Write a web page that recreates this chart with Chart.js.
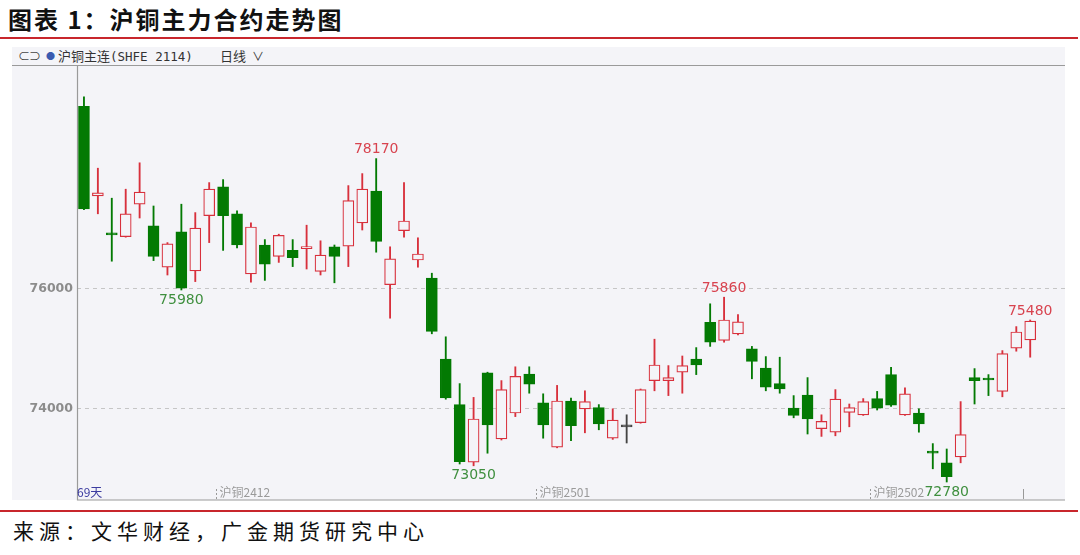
<!DOCTYPE html>
<html>
<head>
<meta charset="utf-8">
<script src="https://cdn.jsdelivr.net/npm/chart.js@4.4.1/dist/chart.umd.min.js"></script>
<style>
  body { margin: 0; width: 1080px; height: 555px; background: #fff; position: relative; overflow: hidden;
         font-family: "Noto Sans CJK SC", sans-serif; }
  #title { position: absolute; left: 8px; top: 6px; font-size: 24px; line-height: 26px; font-weight: bold;
           letter-spacing: 2px; color: #111; }
  .redline { position: absolute; left: 0; width: 1078px; height: 1.5px; background: #c8262c; }
  #panel { position: absolute; left: 12px; top: 47px; width: 1053px; height: 453px; background: #f4f4f8; }
  #bar { position: absolute; left: 12px; top: 47px; width: 1053px; height: 18px; border-bottom: 1px solid #9a9a9a;
         font-size: 13px; line-height: 18px; color: #333; }
  #bar span { position: absolute; top: 0; }
  .mono { font-family: "DejaVu Sans Mono", monospace; font-size: 12.5px; }
  #foot { position: absolute; left: 13px; top: 518px; font-size: 21px; line-height: 24px; letter-spacing: 5px; color: #111; }
  #wrap { position: absolute; left: 0; top: 0; width: 1080px; height: 555px; }
</style>
</head>
<body>
<div id="title">图表 1：沪铜主力合约走势图</div>
<div class="redline" style="top:37px"></div>
<div id="panel"></div>
<div id="bar">
  <span style="left:6px;font-size:12px;letter-spacing:-1px;color:#444">⊂⊃</span>
  <span style="left:34px;font-size:9px;color:#3a5bb0">●</span>
  <span style="left:46px">沪铜主连<span class="mono" style="position:static">(SHFE 2114)</span></span>
  <span style="left:208px">日线</span>
  <span style="left:240px;font-size:12px">∨</span>
</div>
<div class="redline" style="top:510px"></div>
<div id="foot">来源：文华财经，广金期货研究中心</div>
<div id="wrap"><canvas id="c"></canvas></div>

<script>
// daily OHLC of SHFE copper main contract, 69 trading days
const opens  = [79040,77550,76910,76870,77410,77050,76360,76950,76300,77220,
                77700,77250,76250,76730,76540,76640,76670,76290,76700,76710,
                77100,77630,76070,76970,76480,76180,74830,74070,73110,74600,
                73500,73930,74580,74100,73360,74130,74000,74020,73510,73700,
                73770,74470,74470,74610,74830,75440,75140,75250,75000,74680,
                74420,74010,74230,73670,73610,73940,73900,74170,74570,73900,
                73930,73270,73100,73200,74520,74490,74290,75010,75150];
const highs  = [79200,78010,77510,77660,78100,77380,76770,77410,77270,77770,
                77820,77300,77100,76820,76910,76820,77060,76800,76730,77720,
                77920,78170,76700,77770,76850,76260,75200,74420,74190,74610,
                74470,74700,74700,74250,74390,74180,74300,74070,74000,73900,
                74330,75160,74720,74880,75020,75750,75860,75570,75040,74870,
                74860,74220,74520,73900,74320,74080,74170,74290,74690,74350,
                74000,73420,73330,74120,74670,74570,74970,75370,75480];
const lows   = [77320,77250,76460,76860,77180,76470,76230,75980,76120,76770,
                76640,76680,76110,76140,76440,76370,76330,76230,76100,76370,
                76980,76610,75510,76860,76360,75250,74160,73080,73050,73260,
                73480,73870,74260,73510,73350,73470,73600,73650,73490,73430,
                73760,74300,74220,74260,74570,75040,75110,75230,74500,74300,
                74260,73850,73580,73540,73550,73700,73890,73980,74040,73890,
                73610,73000,72780,73100,74080,74220,74200,74960,74860];
const closes = [77330,77600,76900,77250,77610,76540,76750,76010,77010,77660,
                77220,76730,77030,76410,76890,76520,76680,76560,76540,77470,
                77660,76790,76500,77130,76580,75290,74180,73120,73830,73730,
                74320,74540,74410,73730,74130,73720,74120,73750,73810,73700,
                74320,74730,74520,74720,74730,75110,75480,75450,74790,74360,
                74330,73890,73830,73790,74160,74020,74120,74010,74060,74250,
                73750,73260,72870,73570,74470,74480,74920,75280,75460];

// y-axis tick labels and the contract roll markers on the time axis
const yTicks = [74000, 76000];
const contractNames = ['沪铜2412', '沪铜2501', '沪铜2502', ''];
const contractStart = [10, 33, 57, 68];
const highMarks = [21, 46, 68];   // candles whose high is labelled
const lowMarks  = [7, 28, 62];    // candles whose low is labelled
const dayCount = '69天';

const RED = '#d8303c', GREEN = '#037a03', FLAT = '#444', BG = '#f4f4f8';
const slots = opens.length + 2;
const labels = Array.from({length: slots}, (_, i) => i < opens.length ? String(i + 1) : '');

const candleColor = opens.map((o, i) => closes[i] > o ? RED : (closes[i] < o ? GREEN : FLAT));

const decor = {
  id: 'decor',
  afterDraw(chart) {
    const {ctx, chartArea: a, scales: {x, y}} = chart;
    const w = x.getPixelForValue(1) - x.getPixelForValue(0);
    ctx.save();
    // axis lines
    ctx.strokeStyle = '#9a9a9a';
    ctx.lineWidth = 1.2;
    ctx.beginPath();
    ctx.moveTo(a.left + 0.5, a.top);
    ctx.lineTo(a.left + 0.5, a.bottom);
    ctx.lineTo(a.right, a.bottom);
    ctx.stroke();

    // contract roll markers
    ctx.textBaseline = 'alphabetic';
    ctx.textAlign = 'left';
    contractStart.forEach((d, k) => {
      const px = Math.round(x.getPixelForValue(d) - w / 2) + 0.5;
      ctx.strokeStyle = '#999';
      ctx.lineWidth = 1;
      if (contractNames[k]) ctx.setLineDash([2, 2]); else ctx.setLineDash([]);
      ctx.beginPath();
      ctx.moveTo(px, a.bottom - 11);
      ctx.lineTo(px, a.bottom - 1);
      ctx.stroke();
      ctx.setLineDash([]);
      if (contractNames[k]) {
        ctx.fillStyle = '#9a9a9a';
        ctx.font = '12px "Noto Sans CJK SC", sans-serif';
        ctx.fillText(contractNames[k], px + 3, a.bottom - 3);
      }
    });

    ctx.fillStyle = '#3c3ca0';
    ctx.font = '12px "Noto Sans CJK SC", sans-serif';
    ctx.fillText(dayCount, a.left, a.bottom - 3);

    // extreme value labels
    ctx.font = '14px "DejaVu Sans", sans-serif';
    ctx.textAlign = 'center';
    ctx.fillStyle = '#d8434f';
    ctx.textBaseline = 'bottom';
    highMarks.forEach(i => {
      ctx.fillText(String(highs[i]), x.getPixelForValue(i), y.getPixelForValue(highs[i]) - 2);
    });
    ctx.fillStyle = '#3f8f3f';
    ctx.textBaseline = 'top';
    lowMarks.forEach(i => {
      ctx.fillText(String(lows[i]), x.getPixelForValue(i), y.getPixelForValue(lows[i]) + 3);
    });
    ctx.restore();
  }
};

new Chart(document.getElementById('c'), {
  type: 'bar',
  data: {
    labels: labels,
    datasets: [
      {
        label: 'body',
        data: opens.map((o, i) => [o, closes[i]]),
        backgroundColor: candleColor.map(c => c === RED ? BG : c),
        borderColor: candleColor,
        borderWidth: 1.2,
        borderSkipped: false,
        barThickness: 11,
        minBarLength: 2,
        grouped: false,
        order: 0
      },
      {
        label: 'wick',
        data: lows.map((l, i) => [l, highs[i]]),
        backgroundColor: candleColor,
        borderWidth: 0,
        barThickness: 1.2,
        grouped: false,
        order: 1
      }
    ]
  },
  options: {
    responsive: true,
    maintainAspectRatio: false,
    animation: false,
    layout: { padding: { left: 0, right: 15, top: 65, bottom: 55 } },
    plugins: { legend: { display: false }, tooltip: { enabled: false } },
    scales: {
      x: { display: false, offset: true },
      y: {
        min: 72480,
        max: 79730,
        afterBuildTicks: s => { s.ticks = yTicks.map(v => ({ value: v })); },
        afterFit: s => { s.width = 77; },
        border: { display: false, dash: [4, 4] },
        grid: { color: '#c6c6c6', drawTicks: false, lineWidth: 1 },
        ticks: {
          padding: 4,
          color: '#8c8c8c',
          font: { family: 'DejaVu Sans', size: 12.5, weight: 'bold' },
          callback: v => String(v)
        }
      }
    }
  },
  plugins: [decor]
});
</script>
</body>
</html>
